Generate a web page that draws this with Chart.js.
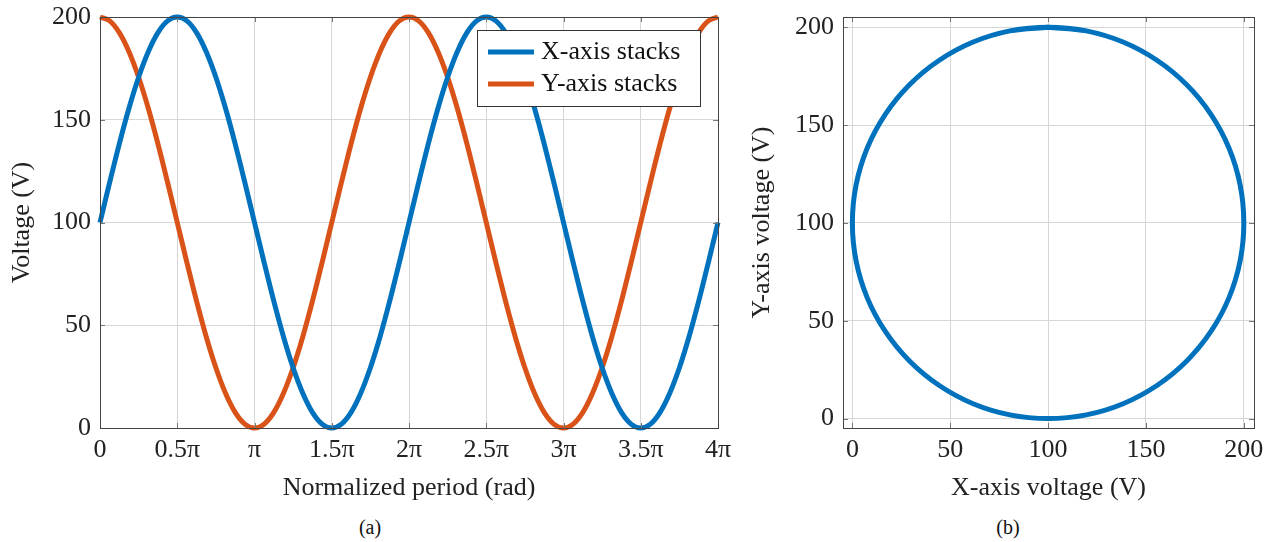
<!DOCTYPE html>
<html>
<head>
<meta charset="utf-8">
<script src="https://cdn.jsdelivr.net/npm/chart.js@4"></script>
<style>
    body { margin: 0; background: #fff; width: 1275px; height: 542px; position: relative; overflow: hidden; }
    .box { position: absolute; }
    .caption { position: absolute; font-family: "Liberation Serif", serif; font-size: 20px; color: #111; transform: translateX(-50%); }
</style>
</head>
<body>
<div class="box" style="left:0; top:0; width:740px; height:508px;"><canvas id="waveChart"></canvas></div>
<div class="box" style="left:740px; top:0; width:535px; height:508px;"><canvas id="circleChart"></canvas></div>
<div class="caption" style="left:370px; top:516px;">(a)</div>
<div class="caption" style="left:1008px; top:516px;">(b)</div>
<script>
// Normalized period, in units of pi (steps of pi/16)
const phase = [
    0, 0.0625, 0.125, 0.1875, 0.25, 0.3125, 0.375, 0.4375, 0.5, 0.5625, 0.625, 0.6875, 0.75, 0.8125, 0.875, 0.9375,
    1, 1.0625, 1.125, 1.1875, 1.25, 1.3125, 1.375, 1.4375, 1.5, 1.5625, 1.625, 1.6875, 1.75, 1.8125, 1.875, 1.9375,
    2, 2.0625, 2.125, 2.1875, 2.25, 2.3125, 2.375, 2.4375, 2.5, 2.5625, 2.625, 2.6875, 2.75, 2.8125, 2.875, 2.9375,
    3, 3.0625, 3.125, 3.1875, 3.25, 3.3125, 3.375, 3.4375, 3.5, 3.5625, 3.625, 3.6875, 3.75, 3.8125, 3.875, 3.9375,
    4];

// Voltages (V)
const xStacks = [
    100, 119.5, 138.3, 155.6, 170.7, 183.1, 192.4, 198.1, 200, 198.1, 192.4, 183.1, 170.7, 155.6, 138.3, 119.5,
    100, 80.5, 61.7, 44.4, 29.3, 16.9, 7.6, 1.9, 0, 1.9, 7.6, 16.9, 29.3, 44.4, 61.7, 80.5,
    100, 119.5, 138.3, 155.6, 170.7, 183.1, 192.4, 198.1, 200, 198.1, 192.4, 183.1, 170.7, 155.6, 138.3, 119.5,
    100, 80.5, 61.7, 44.4, 29.3, 16.9, 7.6, 1.9, 0, 1.9, 7.6, 16.9, 29.3, 44.4, 61.7, 80.5,
    100];
const yStacks = [
    200, 198.1, 192.4, 183.1, 170.7, 155.6, 138.3, 119.5, 100, 80.5, 61.7, 44.4, 29.3, 16.9, 7.6, 1.9,
    0, 1.9, 7.6, 16.9, 29.3, 44.4, 61.7, 80.5, 100, 119.5, 138.3, 155.6, 170.7, 183.1, 192.4, 198.1,
    200, 198.1, 192.4, 183.1, 170.7, 155.6, 138.3, 119.5, 100, 80.5, 61.7, 44.4, 29.3, 16.9, 7.6, 1.9,
    0, 1.9, 7.6, 16.9, 29.3, 44.4, 61.7, 80.5, 100, 119.5, 138.3, 155.6, 170.7, 183.1, 192.4, 198.1,
    200];

const seriesNames = ['X-axis stacks', 'Y-axis stacks'];
const phaseTicks = [0, 0.5, 1, 1.5, 2, 2.5, 3, 3.5, 4];
const phaseTickLabels = ['0', '0.5π', 'π', '1.5π', '2π', '2.5π', '3π', '3.5π', '4π'];
const voltTicks = [0, 50, 100, 150, 200];

const blue = '#0072BD';
const orange = '#D95319';
const gridColor = '#d6d6d6';
const frameColor = '#444';
const serif = '"Liberation Serif", "Times New Roman", serif';
const fontSize = 26;

Chart.defaults.font.family = serif;
Chart.defaults.color = '#222';

// full box around the plot area, with small inward tick marks
const framePlugin = {
    id: 'frame',
    afterDatasetsDraw(chart) {
        const { ctx, chartArea: a, scales } = chart;
        ctx.save();
        ctx.strokeStyle = '#777';
        ctx.lineWidth = 1;
        const len = 5;
        scales.x.ticks.forEach(t => {
            const px = Math.round(scales.x.getPixelForValue(t.value)) + 0.5;
            ctx.beginPath();
            ctx.moveTo(px, a.bottom); ctx.lineTo(px, a.bottom - len);
            ctx.moveTo(px, a.top); ctx.lineTo(px, a.top + len);
            ctx.stroke();
        });
        scales.y.ticks.forEach(t => {
            const py = Math.round(scales.y.getPixelForValue(t.value)) + 0.5;
            ctx.beginPath();
            ctx.moveTo(a.left, py); ctx.lineTo(a.left + len, py);
            ctx.moveTo(a.right, py); ctx.lineTo(a.right - len, py);
            ctx.stroke();
        });
        ctx.strokeStyle = frameColor;
        ctx.strokeRect(Math.round(a.left) + 0.5, Math.round(a.top) + 0.5,
            Math.round(a.right - a.left), Math.round(a.bottom - a.top));
        ctx.restore();
    }
};

// legend box drawn inside the plot area, top right
const insideLegend = {
    id: 'insideLegend',
    afterDraw(chart) {
        const { ctx, chartArea: a } = chart;
        const w = 223, h = 76;
        const x0 = a.right - 18 - w, y0 = a.top + 13;
        ctx.save();
        ctx.fillStyle = '#fff';
        ctx.fillRect(x0, y0, w, h);
        ctx.strokeStyle = '#333';
        ctx.lineWidth = 1;
        ctx.strokeRect(x0 + 0.5, y0 + 0.5, w, h);
        ctx.font = fontSize + 'px ' + serif;
        ctx.textBaseline = 'middle';
        chart.data.datasets.forEach((ds, i) => {
            const cy = y0 + 22 + i * 32;
            ctx.strokeStyle = ds.borderColor;
            ctx.lineWidth = 5;
            ctx.beginPath();
            ctx.moveTo(x0 + 11, cy); ctx.lineTo(x0 + 57, cy);
            ctx.stroke();
            ctx.fillStyle = '#111';
            ctx.fillText(ds.label, x0 + 64, cy);
        });
        ctx.restore();
    }
};

function axisTicks(values) {
    return function (scale) {
        scale.ticks = values.map(v => ({ value: v }));
    };
}

// fixed axis sizes, no extra room for overhanging labels
function fixSize(prop, size) {
    return function (s) {
        s[prop] = size;
        s.paddingTop = 0; s.paddingBottom = 0; s.paddingLeft = 0; s.paddingRight = 0;
    };
}

// Left: the two stack voltages over the period
new Chart(document.getElementById('waveChart').getContext('2d'), {
    type: 'line',
    data: {
        datasets: [
            {
                label: seriesNames[0],
                data: phase.map((p, i) => ({ x: p, y: xStacks[i] })),
                borderColor: blue,
                borderWidth: 5,
                pointRadius: 0,
                cubicInterpolationMode: 'monotone'
            },
            {
                label: seriesNames[1],
                data: phase.map((p, i) => ({ x: p, y: yStacks[i] })),
                borderColor: orange,
                borderWidth: 5,
                pointRadius: 0,
                cubicInterpolationMode: 'monotone'
            }
        ]
    },
    options: {
        responsive: true,
        maintainAspectRatio: false,
        animation: false,
        clip: false,
        layout: { padding: { top: 17, right: 22, left: 0, bottom: 0 } },
        plugins: { legend: { display: false }, tooltip: { enabled: false } },
        scales: {
            x: {
                type: 'linear',
                min: 0,
                max: 4,
                afterBuildTicks: axisTicks(phaseTicks),
                afterFit: fixSize('height', 80),
                grid: { color: gridColor, drawTicks: false },
                border: { display: false },
                ticks: {
                    padding: 7,
                    maxRotation: 0,
                    font: { size: fontSize },
                    callback: (v) => phaseTickLabels[phaseTicks.indexOf(v)]
                },
                title: { display: true, text: 'Normalized period (rad)', font: { size: fontSize }, padding: { top: 0, bottom: 4 } }
            },
            y: {
                min: 0,
                max: 200,
                afterBuildTicks: axisTicks(voltTicks),
                afterFit: fixSize('width', 100),
                grid: { color: gridColor, drawTicks: false },
                border: { display: false },
                ticks: { padding: 9, font: { size: fontSize } },
                title: { display: true, text: 'Voltage (V)', font: { size: fontSize }, padding: { top: 7, bottom: 4 } }
            }
        }
    },
    plugins: [framePlugin, insideLegend]
});

// Right: X stack voltage against Y stack voltage
new Chart(document.getElementById('circleChart').getContext('2d'), {
    type: 'scatter',
    data: {
        datasets: [{
            label: 'Trajectory',
            data: xStacks.map((v, i) => ({ x: v, y: yStacks[i] })),
            borderColor: blue,
            borderWidth: 5,
            pointRadius: 0,
            showLine: true,
            tension: 0.33
        }]
    },
    options: {
        responsive: true,
        maintainAspectRatio: false,
        animation: false,
        layout: { padding: { top: 17, right: 21, left: 0, bottom: 0 } },
        plugins: { legend: { display: false }, tooltip: { enabled: false } },
        scales: {
            x: {
                min: -4.8,
                max: 205.2,
                afterBuildTicks: axisTicks(voltTicks),
                afterFit: fixSize('height', 80),
                grid: { color: gridColor, drawTicks: false },
                border: { display: false },
                ticks: { padding: 7, maxRotation: 0, font: { size: fontSize } },
                title: { display: true, text: 'X-axis voltage (V)', font: { size: fontSize }, padding: { top: 0, bottom: 4 } }
            },
            y: {
                min: -4.8,
                max: 205.2,
                afterBuildTicks: axisTicks(voltTicks),
                afterFit: fixSize('width', 103),
                grid: { color: gridColor, drawTicks: false },
                border: { display: false },
                ticks: { padding: 9, font: { size: fontSize } },
                title: { display: true, text: 'Y-axis voltage (V)', font: { size: fontSize }, padding: { top: 7, bottom: 4 } }
            }
        }
    },
    plugins: [framePlugin]
});
</script>
</body>
</html>
